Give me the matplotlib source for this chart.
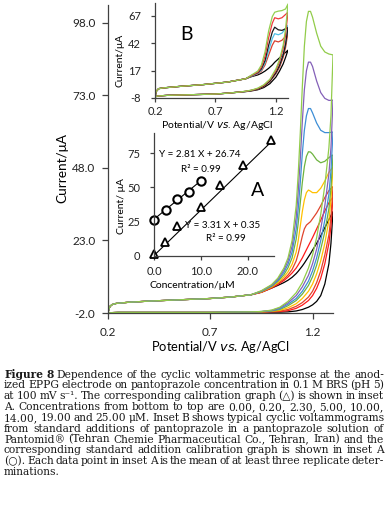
import matplotlib
matplotlib.use('Agg')
import matplotlib.pyplot as plt
from matplotlib.transforms import IdentityTransform

plt.rcParams['font.family'] = ['Lato', 'DejaVu Sans']

W, H = 391, 513

# ---------------- main CVs (concentrations 0 .. 25 uM) ----------------
conc = ['0.00', '0.20', '2.30', '5.00', '10.00', '14.00', '19.00', '25.00']
cv_colors = ['#000000', '#FF1A1A', '#E0442C', '#FFC000', '#6DB33F', '#3D8ED6', '#8460B8', '#92CC4A']

E_fwd_base = [0.20, 0.205, 0.21, 0.22, 0.24, 0.27, 0.30, 0.40, 0.50, 0.60, 0.70, 0.80, 0.90]
I_fwd_base = [-2.0, -0.5, 0.3, 0.9, 1.3, 1.5, 1.7, 2.1, 2.4, 2.7, 3.0, 3.5, 4.3]
E_fwd_hi = [0.95, 1.00, 1.03, 1.06, 1.08, 1.10, 1.12, 1.13, 1.14, 1.15, 1.16, 1.17, 1.18, 1.19,
            1.20, 1.22, 1.24, 1.26, 1.28, 1.30]
I_fwd_hi = [
    [5.2, 6.6, 7.5, 8.5, 9.3, 10.3, 11.6, 12.4, 13.3, 14.2, 15.2, 16.3, 17.4, 18.5, 19.7, 22.0, 24.6, 27.4, 30.2, 33.0],
    [5.1, 6.6, 7.8, 9.2, 10.4, 11.8, 13.5, 14.6, 15.8, 17.0, 18.4, 19.8, 21.2, 22.6, 24.0, 27.0, 30.0, 33.2, 36.0, 38.0],
    [5.2, 6.8, 8.1, 9.7, 11.1, 13.0, 16.0, 18.5, 21.5, 24.5, 27.0, 28.3, 28.9, 29.5, 30.5, 32.5, 35.0, 37.8, 40.2, 41.6],
    [5.3, 7.0, 8.5, 10.4, 12.2, 14.8, 19.0, 23.0, 28.0, 33.0, 37.0, 39.5, 40.4, 40.0, 39.5, 39.5, 41.0, 43.5, 46.5, 48.4],
    [5.4, 7.2, 8.9, 11.2, 13.6, 17.0, 23.5, 29.0, 36.0, 43.0, 48.5, 52.0, 53.6, 53.5, 52.8, 50.8, 49.8, 50.3, 51.6, 52.5],
    [5.5, 7.4, 9.2, 12.0, 14.8, 19.0, 27.0, 34.0, 43.0, 53.0, 61.0, 66.0, 68.5, 68.5, 67.0, 63.5, 61.0, 60.2, 60.2, 60.4],
    [5.6, 7.6, 9.6, 12.8, 16.0, 21.0, 31.0, 40.0, 51.0, 64.0, 75.0, 81.5, 84.5, 84.5, 83.0, 78.0, 74.0, 72.0, 71.3, 71.4],
    [5.7, 7.8, 10.0, 13.5, 17.0, 23.0, 35.0, 46.0, 60.0, 76.0, 90.0, 98.5, 102.0, 102.0, 100.0, 94.5, 90.0, 88.0, 87.3, 87.0],
]
E_rev_hi = [1.30, 1.29, 1.28, 1.26, 1.24, 1.22, 1.20, 1.18, 1.15, 1.12, 1.08, 1.04, 1.00, 0.95]
I_rev_hi = [
    [33.0, 22.0, 15.0, 8.0, 4.0, 2.0, 0.8, 0.0, -0.8, -1.3, -1.6, -1.7, -1.7, -1.6],
    [38.0, 28.0, 22.0, 15.0, 10.0, 6.5, 4.0, 2.3, 0.7, -0.4, -1.2, -1.5, -1.6, -1.6],
    [41.6, 31.0, 25.0, 18.0, 12.5, 8.5, 5.5, 3.5, 1.6, 0.3, -0.8, -1.3, -1.5, -1.6],
    [48.4, 37.0, 30.0, 22.0, 16.0, 11.5, 8.0, 5.5, 3.0, 1.2, -0.2, -1.1, -1.4, -1.6],
    [52.5, 41.0, 34.0, 26.0, 20.0, 14.5, 10.5, 7.5, 4.5, 2.3, 0.5, -0.8, -1.3, -1.5],
    [60.4, 47.0, 39.0, 30.0, 23.0, 17.0, 12.5, 9.0, 5.5, 3.0, 1.0, -0.5, -1.2, -1.5],
    [71.4, 55.0, 46.0, 35.0, 27.0, 20.0, 15.0, 11.0, 7.0, 4.0, 1.5, -0.2, -1.1, -1.5],
    [87.0, 66.0, 55.0, 42.0, 32.0, 24.0, 18.0, 13.5, 8.5, 5.0, 2.0, 0.0, -1.0, -1.5],
]
E_rev_base = [0.90, 0.80, 0.70, 0.50, 0.35, 0.25, 0.21, 0.20]
I_rev_base = [-1.6, -1.7, -1.8, -1.8, -1.8, -1.8, -1.9, -2.0]

# ---------------- inset B: standard additions ----------------
b_colors = ['#000000', '#D8402F', '#4EC0E6', '#1A1A1A', '#EE3B3B', '#92D050']
EB_fwd_base = [0.20, 0.21, 0.23, 0.27, 0.40, 0.60, 0.80, 0.95]
IB_fwd_base = [-7.0, -2.0, 0.5, 1.2, 2.5, 4.2, 6.5, 9.5]
EB_fwd_hi = [1.00, 1.05, 1.08, 1.11, 1.14, 1.17, 1.19, 1.22, 1.25, 1.28, 1.30]
IB_fwd_hi = [
    [11.5, 13.0, 14.5, 16.5, 19.0, 22.0, 24.5, 27.5, 30.5, 33.5, 35.5],
    [12.0, 14.0, 16.5, 22.0, 31.0, 40.0, 44.0, 43.0, 44.5, 48.0, 52.0],
    [12.0, 14.5, 17.5, 24.0, 35.0, 46.0, 50.5, 49.5, 51.0, 55.0, 58.0],
    [12.5, 15.0, 18.5, 26.0, 40.0, 52.0, 56.4, 54.0, 53.5, 55.0, 56.0],
    [12.5, 15.5, 20.0, 30.0, 47.0, 60.0, 65.0, 64.0, 65.0, 68.0, 70.0],
    [13.0, 16.5, 22.0, 34.0, 53.0, 66.0, 70.0, 71.0, 71.5, 73.0, 77.5],
]
EB_rev_hi = [1.30, 1.28, 1.26, 1.23, 1.20, 1.15, 1.10, 1.05, 1.00, 0.95]
IB_rev_hi = [
    [35.5, 29.0, 23.0, 16.5, 11.0, 5.0, 1.5, -0.5, -1.5, -2.2],
    [52.0, 38.0, 29.0, 20.0, 14.0, 7.0, 2.5, 0.0, -1.2, -2.0],
    [58.0, 42.0, 32.0, 22.0, 15.0, 7.5, 3.0, 0.3, -1.0, -2.0],
    [56.0, 41.0, 31.0, 21.5, 15.0, 7.3, 2.8, 0.2, -1.1, -2.0],
    [70.0, 50.0, 37.0, 25.0, 17.0, 8.5, 3.5, 0.6, -0.9, -1.9],
    [77.5, 55.0, 40.0, 27.0, 18.5, 9.0, 4.0, 1.0, -0.8, -1.8],
]
EB_rev_base = [0.90, 0.80, 0.70, 0.50, 0.30, 0.22, 0.20]
IB_rev_base = [-2.6, -3.6, -4.4, -5.0, -5.6, -6.2, -7.0]

# ---------------- inset A: calibration ----------------
tri_x = [0.0, 2.3, 5.0, 10.0, 14.0, 19.0, 25.0]
tri_y = [1.5, 10.5, 22.0, 35.5, 52.0, 66.0, 84.5]
circ_x = [0.0, 2.5, 5.0, 7.5, 10.0]
circ_y = [26.5, 33.5, 41.5, 46.5, 54.5]
fit_tri = (3.31, 0.35)
fit_circ = (2.81, 26.74)

caption = [
    "Figure 8 Dependence of the cyclic voltammetric response at the anod-",
    "ized EPPG electrode on pantoprazole concentration in 0.1 M BRS (pH 5)",
    "at 100 mV s\u207b\u00b9. The corresponding calibration graph (\u25b3) is shown in inset",
    "A. Concentrations from bottom to top are 0.00, 0.20, 2.30, 5.00, 10.00,",
    "14.00, 19.00 and 25.00 \u03bcM. Inset B shows typical cyclic voltammograms",
    "from standard additions of pantoprazole in a pantoprazole solution of",
    "Pantomid\u00ae (Tehran Chemie Pharmaceutical Co., Tehran, Iran) and the",
    "corresponding standard addition calibration graph is shown in inset A",
    "(\u25cb). Each data point in inset A is the mean of at least three replicate deter-",
    "minations.",
]


def fx(px):
    return px / W


def fy(py):
    return 1 - py / H


def style_axes(ax, tick_len, fs):
    for s in ['top', 'right']:
        ax.spines[s].set_visible(False)
    for s in ['left', 'bottom']:
        ax.spines[s].set_color('#404040')
        ax.spines[s].set_linewidth(0.9)
    ax.patch.set_alpha(0)
    ax.tick_params(direction='out', length=tick_len, width=0.9, color='#404040',
                   labelsize=fs, labelcolor='#222222')


fig = plt.figure(figsize=(W / 100, H / 100), dpi=100)

# main axes
ax = fig.add_axes([fx(108), fy(313), fx(333) - fx(108), fy(5) - fy(313)])
for k in range(len(conc)):
    E = E_fwd_base + E_fwd_hi + E_rev_hi + E_rev_base
    I = I_fwd_base + I_fwd_hi[k] + I_rev_hi[k] + I_rev_base
    ax.plot(E, I, color=cv_colors[k], lw=0.9, solid_joinstyle='round')
ax.set_xlim(0.2, 1.3)
ax.set_ylim(-2, 104.2)
ax.set_xticks([0.2, 0.7, 1.2], ['0.2', '0.7', '1.2'])
ax.set_yticks([-2, 23, 48, 73, 98], ['-2.0', '23.0', '48.0', '73.0', '98.0'])
style_axes(ax, 4, 8.5)
ax.tick_params(axis='x', pad=6)
ax.tick_params(axis='y', pad=5)
fig.text(fx(62), fy(168), 'Current/\u03bcA', rotation=90, ha='center', va='center', fontsize=9.8)
fig.text(fx(220), fy(347), 'Potential/V $\\it{vs}$. Ag/AgCl', ha='center', va='center', fontsize=9.3)

# inset B
axb = fig.add_axes([fx(155), fy(98), fx(288) - fx(155), fy(3) - fy(98)])
for k in range(len(b_colors)):
    E = EB_fwd_base + EB_fwd_hi + EB_rev_hi + EB_rev_base
    I = IB_fwd_base + IB_fwd_hi[k] + IB_rev_hi[k] + IB_rev_base
    axb.plot(E, I, color=b_colors[k], lw=0.9)
axb.set_xlim(0.2, 1.3)
axb.set_ylim(-8, 78.4)
axb.set_xticks([0.2, 0.7, 1.2], ['0.2', '0.7', '1.2'])
axb.set_yticks([-8, 17, 42, 67], ['-8', '17', '42', '67'])
style_axes(axb, 3, 8)
axb.tick_params(axis='y', pad=7)
axb.tick_params(axis='x', pad=3)
fig.text(fx(120), fy(60), 'Current/\u03bcA', rotation=90, ha='center', va='center', fontsize=7.5)
fig.text(fx(217), fy(126), 'Potential/V $\\it{vs}$. Ag/AgCl', ha='center', va='center', fontsize=7.5)
fig.text(fx(186), fy(35), 'B', ha='center', va='center', fontsize=14)

# inset A
axa = fig.add_axes([fx(154), fy(256), fx(274) - fx(154), fy(133) - fy(256)])
axa.plot([0, 25], [fit_tri[1], fit_tri[0] * 25 + fit_tri[1]], color='black', lw=0.8)
axa.plot([0, 10], [fit_circ[1], fit_circ[0] * 10 + fit_circ[1]], color='black', lw=0.8)
axa.plot(tri_x, tri_y, ls='none', marker='^', ms=6, mfc='white', mec='black', mew=1.3, clip_on=False)
axa.plot(circ_x, circ_y, ls='none', marker='o', ms=6, mfc='white', mec='black', mew=1.5, clip_on=False)
axa.set_xlim(0, 25.6)
axa.set_ylim(0, 89.6)
axa.set_xticks([0, 10, 20], ['0.0', '10.0', '20.0'])
axa.set_yticks([0, 25, 50, 75], ['0', '25', '50', '75'])
style_axes(axa, 3, 8)
axa.tick_params(axis='y', pad=7)
axa.tick_params(axis='x', pad=4)
fig.text(fx(121), fy(206), 'Current/ \u03bcA', rotation=90, ha='center', va='center', fontsize=7.5)
fig.text(fx(192), fy(285), 'Concentration/\u03bcM', ha='center', va='center', fontsize=7.5)
fig.text(fx(200), fy(155), 'Y = 2.81 X + 26.74', ha='center', va='center', fontsize=7.1)
fig.text(fx(201), fy(169), 'R\u00b2 = 0.99', ha='center', va='center', fontsize=7.1)
fig.text(fx(223), fy(225), 'Y = 3.31 X + 0.35', ha='center', va='center', fontsize=7.1)
fig.text(fx(226), fy(239), 'R\u00b2 = 0.99', ha='center', va='center', fontsize=7.1)
fig.text(fx(258), fy(191), 'A', ha='center', va='center', fontsize=14)

# caption, justified line by line; size chosen so the fullest line just fits
serif = ['DejaVu Serif']
base_fs = 7.0
renderer = fig.canvas.get_renderer()
x_left, x_right = 4, 384
rows = []
for n, line in enumerate(caption):
    ybase = H - (377.5 + n * 10.85)
    texts = []
    for i, w in enumerate(line.split(' ')):
        bold = (n == 0 and i < 2)
        t = fig.text(0, ybase, w, fontsize=base_fs, family=serif, color='#1a1a1a',
                     weight='bold' if bold else 'normal', va='baseline', ha='left',
                     transform=IdentityTransform())
        texts.append(t)
    rows.append(texts)

scale = 10.0
for texts in rows[:-1]:
    wsum = sum(t.get_window_extent(renderer).width for t in texts)
    s = (x_right - x_left - 1.6 * (len(texts) - 1)) / wsum
    scale = min(scale, s)
cap_fs = base_fs * scale

for n, texts in enumerate(rows):
    for t in texts:
        t.set_fontsize(cap_fs)
    widths = [t.get_window_extent(renderer).width for t in texts]
    if n < len(rows) - 1 and len(texts) > 1:
        gap = (x_right - x_left - sum(widths)) / (len(texts) - 1)
    else:
        gap = cap_fs * 100 / 72 * 0.3
    x = x_left
    for t, w in zip(texts, widths):
        t.set_x(x)
        x += w + gap

fig.savefig('out.png', dpi=100)
